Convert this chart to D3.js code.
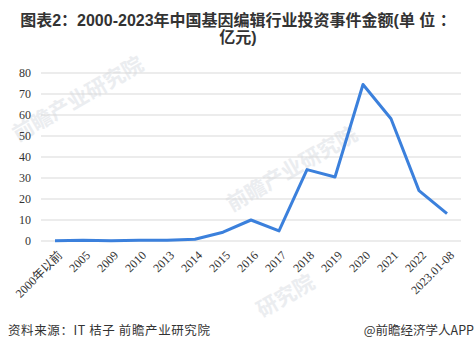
<!DOCTYPE html>
<html>
<head>
<meta charset="utf-8">
<script src="https://cdn.jsdelivr.net/npm/d3@7"></script>
<style>
  body { margin: 0; background: #fff; }
  svg { display: block; }
</style>
</head>
<body>
<script>
// ================= Data ======================
const categories = ["2000年以前", "2005", "2009", "2010", "2013", "2014", "2015", "2016",
                    "2017", "2018", "2019", "2020", "2021", "2022", "2023.01-08"];
const amounts = [0.1, 0.3, 0.1, 0.3, 0.3, 0.8, 4.2, 10, 4.8, 34, 30.5, 74.5, 58.2, 24, 13];
const yTicks = [0, 10, 20, 30, 40, 50, 60, 70, 80];

const W = 475, H = 351;
const margin = {left: 41, right: 14, top: 73, bottom: 110};

const svg = d3.select("body").append("svg")
  .attr("width", W).attr("height", H);

// ================= Title ======================
const title = svg.append("text")
  .attr("text-anchor", "middle")
  .attr("font-family", "Arial, 'Noto Sans CJK SC', sans-serif")
  .attr("font-weight", "bold")
  .attr("font-size", 16)
  .attr("fill", "#333");
title.append("tspan").attr("x", 238).attr("y", 26).text("图表2：2000-2023年中国基因编辑行业投资事件金额(单 位 ：");
title.append("tspan").attr("x", 238).attr("y", 43).text("亿元)");

// ================= Watermarks ======================
const wm = svg.append("g").attr("fill", "#ebedf0").attr("font-family", "'Noto Sans CJK SC', sans-serif")
  .attr("font-weight", "bold");
wm.append("text").attr("transform", "translate(18,142) rotate(-30)").attr("font-size", 21).text("前瞻产业研究院");
wm.append("text").attr("transform", "translate(232,212) rotate(-30)").attr("font-size", 21).text("前瞻产业研究院");
wm.append("text").attr("transform", "translate(262,318) rotate(-30)").attr("font-size", 21).text("研究院");

// ================= Scales ======================
const x = d3.scaleBand().domain(categories).range([margin.left, W - margin.right]);
const y = d3.scaleLinear().domain([0, 80]).range([H - margin.bottom, margin.top]);

// grid
svg.append("g")
  .selectAll("line").data(yTicks).join("line")
  .attr("x1", margin.left).attr("x2", W - margin.right)
  .attr("y1", d => y(d)).attr("y2", d => y(d))
  .attr("stroke", "#d9d9d9").attr("stroke-width", 1);

// y axis
const yAxis = d3.axisLeft(y).tickValues(yTicks).tickSize(0).tickPadding(10);
svg.append("g")
  .attr("transform", `translate(${margin.left},0)`)
  .call(yAxis)
  .call(g => g.select(".domain").remove())
  .call(g => g.selectAll("text")
    .attr("font-family", "'Times New Roman', 'Liberation Serif', serif")
    .attr("font-size", 12).attr("fill", "#333"));

// x axis
const xAxis = d3.axisBottom(x).tickSize(0).tickPadding(0);
svg.append("g")
  .attr("transform", `translate(0,${H - margin.bottom})`)
  .call(xAxis)
  .call(g => g.select(".domain").remove())
  .call(g => g.selectAll("text")
    .attr("font-family", "'Times New Roman', 'Liberation Serif', 'Noto Sans CJK SC', serif")
    .attr("font-size", 12).attr("fill", "#333")
    .attr("text-anchor", "end")
    .attr("dy", 0)
    .attr("transform", "translate(8,15) rotate(-45)"));

// ================= Line ======================
const line = d3.line()
  .x((d, i) => x(categories[i]) + x.bandwidth() / 2)
  .y(d => y(d));

svg.append("path")
  .attr("fill", "none")
  .attr("stroke", "#3b80dc")
  .attr("stroke-width", 3)
  .attr("stroke-linejoin", "round")
  .attr("d", line(amounts));

// ================= Footer ======================
svg.append("text")
  .attr("x", 8).attr("y", 335)
  .attr("font-family", "'Noto Sans CJK SC', sans-serif")
  .attr("font-size", 12.5).attr("fill", "#333")
  .attr("letter-spacing", 0.6)
  .text("资料来源：IT 桔子 前瞻产业研究院");
svg.append("text")
  .attr("x", 474).attr("y", 335)
  .attr("text-anchor", "end")
  .attr("font-family", "'Noto Sans CJK SC', sans-serif")
  .attr("font-size", 12.5).attr("fill", "#333")
  .text("@前瞻经济学人APP");
</script>
</body>
</html>
